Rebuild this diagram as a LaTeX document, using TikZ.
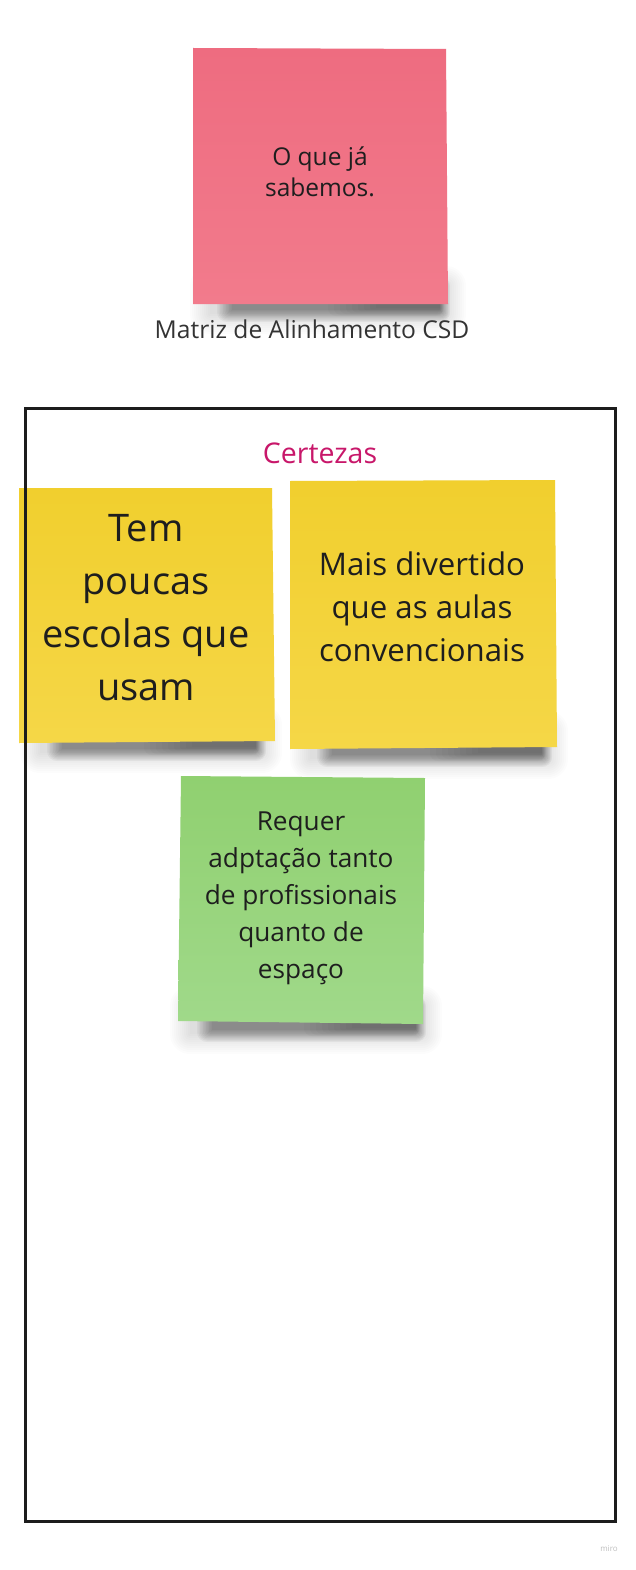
\documentclass[tikz,border=0pt]{standalone}
\usepackage{fontspec}
\setmainfont{Open Sans}
\definecolor{pinkT}{HTML}{EE6C80}
\definecolor{pinkB}{HTML}{F27B8C}
\definecolor{yelT}{HTML}{F1CF2E}
\definecolor{yelB}{HTML}{F5D747}
\definecolor{greT}{HTML}{90D070}
\definecolor{greB}{HTML}{A0D98A}
\definecolor{ink}{HTML}{1E1E1E}
\definecolor{labelc}{HTML}{333333}
\definecolor{cert}{HTML}{C8176A}
\definecolor{framec}{HTML}{1C1C1C}
\tikzset{
  shadowcore/.style={fill=black, opacity=0.04},
  shadowright/.style={fill=black, opacity=0.02},
  shadowhalo/.style={fill=black, opacity=0.012},
  stickytext/.style={text=ink, align=center, inner sep=0pt},
}
\newcommand\stickshadow[3]{%
  \foreach \i in {0,...,10}{
    \fill[shadowhalo, rounded corners=2*\i pt] (#1-2*\i,#3-20-2*\i) rectangle (#2+2*\i,#3+8+2*\i);
  }
  \foreach \i in {0,...,10}{
    \fill[shadowcore, rounded corners=\i pt] (#1+22-1.5*\i,#3-20-\i) rectangle (#2-6+\i,#3+4+1.2*\i);
  }
  \foreach \i in {0,...,8}{
    \fill[shadowright, rounded corners=\i pt] (#2-70-6*\i,#3-20-\i) rectangle (#2-6+0.5*\i,#3+2+\i);
  }}
\begin{document}
\begin{tikzpicture}[x=1pt,y=-1pt]
\useasboundingbox[fill=white] (0,0) rectangle (636,1570);
% shadows
\stickshadow{210}{446}{306}
\stickshadow{40}{262}{745}
\stickshadow{310}{548}{751}
\stickshadow{190}{422}{1026}
% stickies
\shade[top color=pinkT, bottom color=pinkB] (193,48) -- (446,49) -- (448,304) -- (193,304) -- cycle;
\shade[top color=yelT, bottom color=yelB] (19,488) -- (272,488) -- (275,741) -- (19,743) -- cycle;
\shade[top color=yelT, bottom color=yelB] (290,481) -- (555,480) -- (557,747) -- (290,749) -- cycle;
\shade[top color=greT, bottom color=greB] (181,776) -- (425,778) -- (423,1024) -- (178,1021) -- cycle;
% frame
\draw[framec, line width=3pt] (25,408) rectangle (615,1521);
% texts
\node[stickytext, font=\fontsize{24.5}{31}\selectfont] (t1) at (320,172) {O que já\\sabemos.};
\node[text=labelc, font=\fontsize{24.6}{28}\selectfont] (title) at (312,329) {Matriz de Alinhamento CSD};
\node[text=cert, font=\fontsize{28.5}{32}\selectfont] (cert) at (320,453) {Certezas};
\node[stickytext, font=\fontsize{38}{53}\selectfont] (t2) at (146,608) {Tem\\poucas\\escolas que\\usam};
\node[stickytext, font=\fontsize{31.2}{43}\selectfont] (t3) at (422,607) {Mais divertido\\que as aulas\\convencionais};
\node[stickytext, font=\fontsize{26.2}{37}\selectfont] (t4) at (301,898) {Requer\\adptação tanto\\de profissionais\\quanto de\\espaço};
\node[text=gray!50, font=\fontsize{8}{10}\selectfont] (miro) at (609,1549) {miro};
\end{tikzpicture}
\end{document}
